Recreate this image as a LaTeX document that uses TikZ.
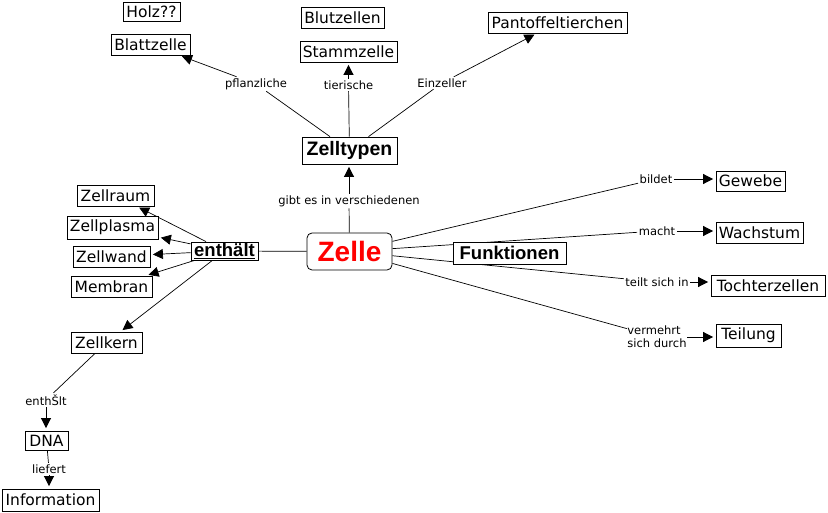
\documentclass[tikz,border=0pt]{standalone}
\usepackage{fontspec}
\setmainfont{DejaVu Sans}
\newfontfamily\helv{Liberation Sans}
\usetikzlibrary{arrows.meta,backgrounds}
\begin{document}
\begin{tikzpicture}[x=1pt,y=-1pt,
 box/.style={draw, line width=0.8pt, fill=white, inner sep=0pt, font=\fontsize{15.5}{17}\selectfont},
 lab/.style={inner sep=1.5pt, font=\fontsize{11.5}{13}\selectfont, align=left},
 head/.style={draw, line width=0.8pt, fill=white, inner sep=0pt, font=\helv\bfseries\fontsize{19.5}{22}\selectfont},
 conn/.style={line width=0.7pt},
 arr/.style={conn, -{Triangle[length=10pt,width=10pt]}, shorten >=2.5pt}]
\useasboundingbox (0,0) rectangle (828,513);
% boxes
\node[box, minimum width=57, minimum height=19] (holz) at (151.5,11.5) {Holz??};
\node[box, minimum width=79, minimum height=21] (blatt) at (150.5,44.5) {Blattzelle};
\node[box, minimum width=83, minimum height=21] (blut) at (342.5,17.5) {Blutzellen};
\node[box, minimum width=97, minimum height=21] (stamm) at (348.5,51.5) {Stammzelle};
\node[box, minimum width=139, minimum height=21] (pant) at (557.5,22.5) {Pantoffeltierchen};
\node[head, minimum width=95, minimum height=27] (typen) at (349.5,150.5) {Zelltypen};
\node[draw, line width=0.8pt, rounded corners=5pt, fill=white, inner sep=0pt, minimum width=85, minimum height=37, text=red, font=\helv\bfseries\fontsize{28}{32}\selectfont] (zelle) at (349.5,251.5) {Zelle};
\node[head, minimum width=67, minimum height=18, font=\helv\bfseries\fontsize{18.5}{20}\selectfont] (enth) at (224.5,251) {\underline{enthält}};
\node[box, minimum width=77, minimum height=21] (raum) at (115.5,195.5) {Zellraum};
\node[box, minimum width=91, minimum height=23] (plasma) at (112.5,227.5) {Zellplasma};
\node[box, minimum width=77, minimum height=21] (wand) at (111.5,256.5) {Zellwand};
\node[box, minimum width=81, minimum height=21] (membran) at (111.5,286.5) {Membran};
\node[box, minimum width=71, minimum height=21] (kern) at (106.5,342.5) {Zellkern};
\node[box, minimum width=43, minimum height=19] (dna) at (46.5,440.5) {DNA};
\node[box, minimum width=97, minimum height=22] (info) at (50.5,500) {Information};
\node[head, minimum width=113, minimum height=22, font=\helv\bfseries\fontsize{18.5}{20}\selectfont] (funk) at (509.5,253) {Funktionen};
\node[box, minimum width=69, minimum height=20] (gewebe) at (750.5,181) {Gewebe};
\node[box, minimum width=87, minimum height=21] (wachs) at (759.5,232.5) {Wachstum};
\node[box, minimum width=114, minimum height=21] (tochter) at (768,285.5) {Tochterzellen};
\node[box, minimum width=65, minimum height=23] (teilung) at (748.5,335.5) {Teilung};
% labels
\node[lab] (gibt) at (349,201) {gibt es in verschiedenen};
\node[lab] (pfl) at (256,84) {pflanzliche};
\node[lab] (tier) at (348.5,85) {tierische};
\node[lab] (einz) at (442,83) {Einzeller};
\node[lab] (bildet) at (656,179) {bildet};
\node[lab] (macht) at (657,231) {macht};
\node[lab] (teilt) at (657,282) {teilt sich in};
\node[lab, inner sep=0.5pt] (verm) at (657,337) {vermehrt\\sich durch};
\node[lab] (enthl) at (46,400) {enthŠlt};
\node[lab] (liefert) at (49,469) {liefert};
% connectors
\begin{scope}[on background layer]
\draw[conn] (zelle) -- (gibt);
\draw[arr] (gibt.north) -- (gibt.north |- typen.south);
\draw[conn] (typen) -- (pfl);
\draw[arr] (pfl) -- (blatt);
\draw[conn] (typen) -- (tier);
\draw[arr] (tier.north) -- (tier.north |- stamm.south);
\draw[conn] (typen) -- (einz);
\draw[arr] (einz) -- (pant);
\draw[conn] (zelle) -- (enth);
\draw[arr] (enth) -- (raum);
\draw[arr] (enth) -- (plasma);
\draw[arr] (enth) -- (wand);
\draw[arr] (enth) -- (membran);
\draw[arr] (enth) -- (kern);
\draw[conn] (kern) -- (enthl);
\draw[arr] (enthl.south) -- (enthl.south |- dna.north);
\draw[conn] (dna) -- (liefert);
\draw[arr] (liefert.south) -- (liefert.south |- info.north);
\draw[conn] (zelle) -- (bildet);
\draw[arr] (bildet.east) -- (bildet.east -| gewebe.west);
\draw[conn] (zelle) -- (macht);
\draw[arr] (macht.east) -- (macht.east -| wachs.west);
\draw[conn] (zelle) -- (teilt);
\draw[arr] (teilt.east) -- (teilt.east -| tochter.west);
\draw[conn] (zelle) -- (verm);
\draw[arr] (verm.east) -- (verm.east -| teilung.west);
\end{scope}
\end{tikzpicture}
\end{document}
